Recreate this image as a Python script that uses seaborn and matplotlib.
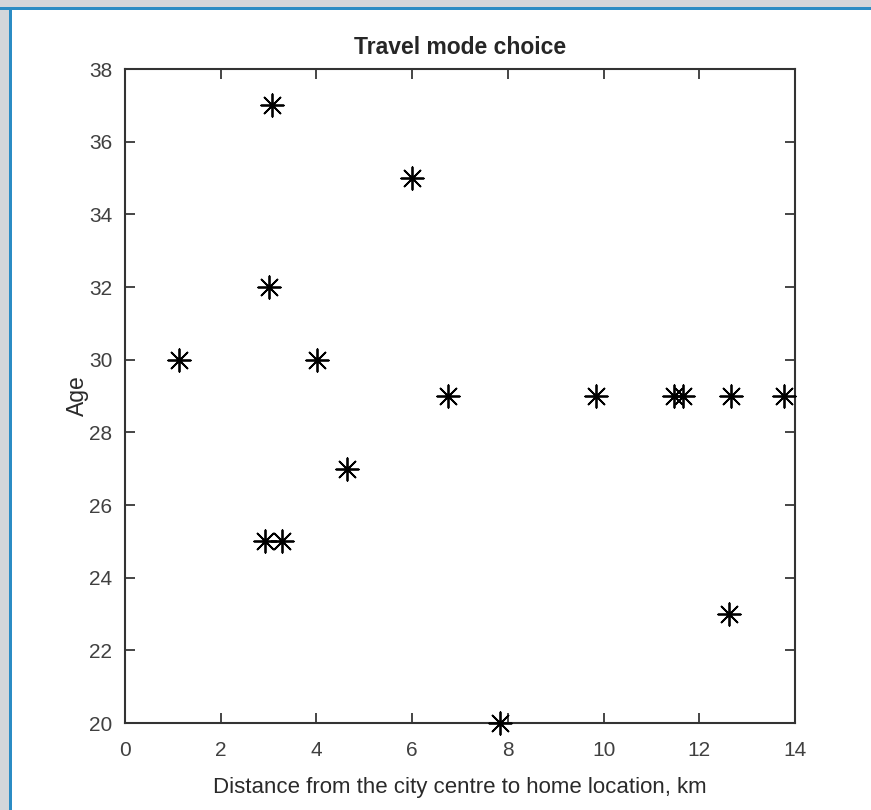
import numpy as np
import pandas as pd
import matplotlib
matplotlib.use("Agg")
import matplotlib.pyplot as plt
from matplotlib.patches import Rectangle
import seaborn as sns

# distance to city centre (km) and age
distance = [1.12, 3.08, 3.00, 4.01, 5.99, 4.63, 2.93, 3.29, 6.75, 7.83,
            9.84, 11.48, 11.65, 12.66, 13.76, 12.63]
age = [30, 37, 32, 30, 35, 27, 25, 25, 29, 20, 29, 29, 29, 29, 29, 23]

x_ticks = [0, 2, 4, 6, 8, 10, 12, 14]
y_ticks = [20, 22, 24, 26, 28, 30, 32, 34, 36, 38]

df = pd.DataFrame({"distance": distance, "age": age})

sns.set_style("white")
plt.rcParams["font.family"] = ["Liberation Sans", "DejaVu Sans"]

fig = plt.figure(figsize=(8.71, 8.10), dpi=100)
ax = fig.add_axes([125 / 871, 1 - 723 / 810, 670 / 871, 654 / 810])

# window frame of the screenshot
fig.add_artist(Rectangle((0, 1 - 8 / 810), 1, 8 / 810, transform=fig.transFigure,
                         facecolor="#d3d6da", edgecolor="none"))
fig.add_artist(Rectangle((0, 0), 9 / 871, 1, transform=fig.transFigure,
                         facecolor="#d3d6da", edgecolor="none"))
fig.add_artist(Rectangle((0, 1 - 10 / 810), 1, 2.5 / 810, transform=fig.transFigure,
                         facecolor="#2b8cc4", edgecolor="none"))
fig.add_artist(Rectangle((9 / 871, 0), 2.5 / 871, 1 - 8 / 810, transform=fig.transFigure,
                         facecolor="#2b8cc4", edgecolor="none"))

sns.scatterplot(data=df, x="distance", y="age", ax=ax, marker=(8, 2, 0),
                s=260, color="black", edgecolor="black", linewidth=1.3,
                clip_on=False, zorder=5)

ax.set_xlim(0, 14)
ax.set_ylim(20, 38)
ax.set_xticks(x_ticks)
ax.set_yticks(y_ticks)
ax.tick_params(direction="in", length=7, width=1.2, color="#262626",
               labelsize=15, labelcolor="#404040", top=True, right=True,
               bottom=True, left=True)
ax.tick_params(axis="x", pad=13)
ax.tick_params(axis="y", pad=9)
for sp in ax.spines.values():
    sp.set_visible(True)
    sp.set_color("#333333")
    sp.set_linewidth(1.5)

ax.set_title("Travel mode choice", fontsize=16.5, fontweight="bold", pad=11)
ax.set_xlabel("Distance from the city centre to home location, km",
              fontsize=16, color="#2a2a2a", labelpad=12)
ax.set_ylabel("Age", fontsize=16.5, color="#2a2a2a", labelpad=0)

fig.savefig("out.png", dpi=100)
